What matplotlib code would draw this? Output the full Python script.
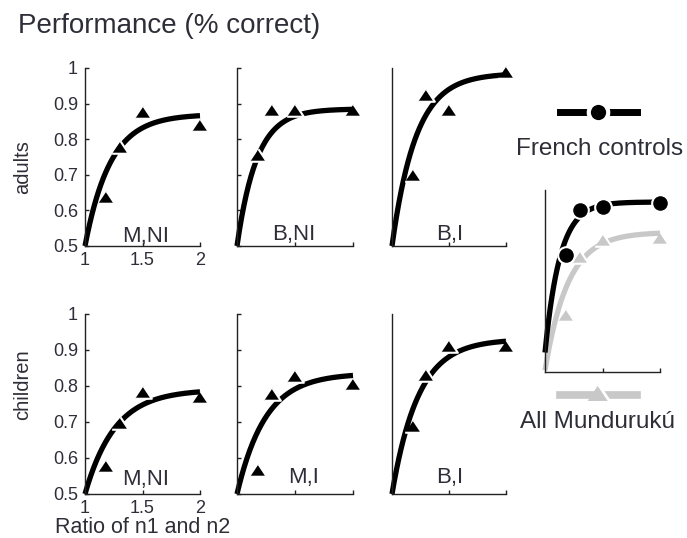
import numpy as np
import matplotlib
matplotlib.use('Agg')
import matplotlib.pyplot as plt
from matplotlib.lines import Line2D

plt.rcParams['font.family'] = ['Liberation Sans', 'DejaVu Sans']

TXT = '#2e2e38'
GRAY = '#c8c8c8'

# ---- data ----
ratios = [1.18, 1.3, 1.5, 2.0]

adults_MNI = [0.638, 0.778, 0.876, 0.840]
adults_BNI = [0.756, 0.882, 0.882, 0.882]
adults_BI = [0.700, 0.924, 0.882, 0.989]
children_MNI = [0.578, 0.697, 0.783, 0.770]
children_MI = [0.567, 0.778, 0.828, 0.806]
children_BI = [0.690, 0.830, 0.910, 0.910]
french = [0.800, 0.938, 0.948, 0.960]
munduruku = [0.615, 0.794, 0.846, 0.852]

# exponential fit parameters: (start level, asymptote, scale)
fit_adults_MNI = (0.5, 0.870, 0.22)
fit_adults_BNI = (0.5, 0.885, 0.17)
fit_adults_BI = (0.5, 0.985, 0.21)
fit_children_MNI = (0.5, 0.790, 0.26)
fit_children_MI = (0.5, 0.835, 0.245)
fit_children_BI = (0.5, 0.930, 0.23)
fit_french = (0.5, 0.963, 0.13)
fit_munduruku = (0.445, 0.870, 0.20)

panel_labels = ['M,NI', 'B,NI', 'B,I', 'M,NI', 'M,I', 'B,I']
ytick_vals = [0.5, 0.6, 0.7, 0.8, 0.9, 1.0]
ytick_text = ['0.5', '0.6', '0.7', '0.8', '0.9', '1']
xtick_vals = [1, 1.5, 2]
xtick_text = ['1', '1.5', '2']

W, H = 687, 538
fig = plt.figure(figsize=(W / 100, H / 100), dpi=100)

TRI = [(-1, -0.75), (1, -0.75), (0, 0.75)]


def fit_curve(params):
    base, asym, scale = params
    xs = np.linspace(1, 2, 200)
    return xs, base + (asym - base) * (1 - np.exp(-(xs - 1) / scale))


def make_ax(left_px, top_px, right_px, bottom_px):
    return fig.add_axes([left_px / W, 1 - bottom_px / H,
                         (right_px - left_px) / W, (bottom_px - top_px) / H])


def style(ax, col, ylim=(0.5, 1.0)):
    ax.set_xlim(1, 2)
    ax.set_ylim(*ylim)
    for s in ['top', 'right']:
        ax.spines[s].set_visible(False)
    for s in ['left', 'bottom']:
        ax.spines[s].set_color('#222222')
        ax.spines[s].set_linewidth(1.0)
    ax.tick_params(direction='in', length=3, width=1, colors='#222222',
                   labelcolor=TXT, labelsize=13)
    if col == 0:
        ax.set_yticks(ytick_vals)
        ax.set_yticklabels(ytick_text)
        ax.set_xticks(xtick_vals)
        ax.set_xticklabels(xtick_text)
        ax.tick_params(axis='y', pad=5)
        ax.tick_params(axis='x', pad=4)
    elif col == 1:
        ax.set_yticks(ytick_vals)
        ax.set_yticklabels([])
        ax.set_xticks(xtick_vals[1:])
        ax.set_xticklabels([])
    else:
        ax.set_yticks([])
        ax.set_xticks(xtick_vals[1:])
        ax.set_xticklabels([])


def draw(ax, yvals, fit, color='black', marker=TRI, ms=12):
    xs, ys = fit_curve(fit)
    ax.plot(xs, ys, color=color, lw=3.8, solid_capstyle='butt', clip_on=False)
    ax.plot(ratios, yvals, linestyle='none', marker=marker, ms=ms,
            mfc=color, mec='white', mew=1.5, clip_on=False, zorder=3)


cols = [(85, 200), (237, 353), (392, 506)]
rows = [(68, 246), (314, 494)]
data = [[adults_MNI, adults_BNI, adults_BI], [children_MNI, children_MI, children_BI]]
fits = [[fit_adults_MNI, fit_adults_BNI, fit_adults_BI],
        [fit_children_MNI, fit_children_MI, fit_children_BI]]
label_pos = [[(1.53, 0.512), (1.49, 0.517), (1.51, 0.517)],
             [(1.53, 0.525), (1.57, 0.530), (1.51, 0.530)]]

k = 0
for r, (top, bot) in enumerate(rows):
    for c, (lft, rgt) in enumerate(cols):
        ax = make_ax(lft, top, rgt, bot)
        style(ax, c)
        draw(ax, data[r][c], fits[r][c])
        lx, ly = label_pos[r][c]
        ax.text(lx, ly, panel_labels[k], ha='center', va='baseline',
                fontsize=16, color=TXT)
        k += 1

# right summary panel
axr = make_ax(545, 190, 660, 372)
style(axr, 2, ylim=(0.44, 1.0))
draw(axr, munduruku, fit_munduruku, color=GRAY)
draw(axr, french, fit_french, color='black', marker='o', ms=12)

# legend glyphs
fig.add_artist(Line2D([560 / W, 637 / W], [1 - 112 / H, 1 - 112 / H], color='black', lw=5))
fig.add_artist(Line2D([598 / W], [1 - 112 / H], marker='o', ms=14, mfc='black',
                      mec='white', mew=3, linestyle='none'))
fig.add_artist(Line2D([560 / W, 637 / W], [1 - 395 / H, 1 - 395 / H], color=GRAY, lw=5.5))
fig.add_artist(Line2D([598 / W], [1 - 393 / H], marker=TRI, ms=17, mfc=GRAY,
                      mec='white', mew=2, linestyle='none'))

fig.text(600 / W, 1 - 155 / H, 'French controls', ha='center', va='baseline',
         fontsize=17.5, color=TXT)
fig.text(598 / W, 1 - 428 / H, 'All Mundurukú', ha='center', va='baseline',
         fontsize=17.5, color=TXT)

# titles and labels
fig.text(18 / W, 1 - 33 / H, 'Performance (% correct)', ha='left', va='baseline',
         fontsize=20, color=TXT)
fig.text(23 / W, 1 - 167 / H, 'adults', rotation=90, ha='center', va='center',
         fontsize=14.5, color=TXT)
fig.text(23 / W, 1 - 385 / H, 'children', rotation=90, ha='center', va='center',
         fontsize=14.5, color=TXT)
fig.text(55 / W, 1 - 533 / H, 'Ratio of n1 and n2', ha='left', va='baseline',
         fontsize=15.5, color=TXT)

fig.savefig('out.png', dpi=100)
